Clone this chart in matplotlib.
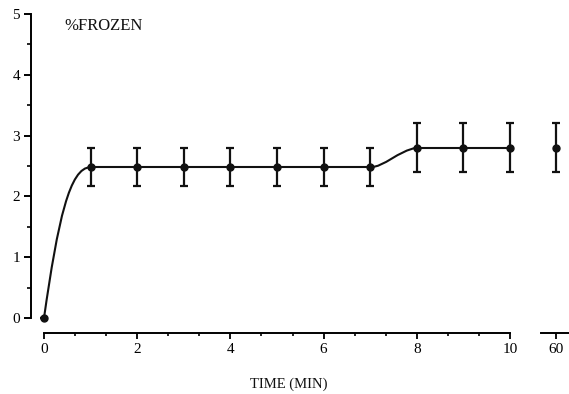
import matplotlib
matplotlib.use("Agg")
import matplotlib.pyplot as plt
from matplotlib.path import Path
from matplotlib.patches import PathPatch
from matplotlib.ticker import MultipleLocator, FixedLocator

# ---- data ----
time_min = [0, 1, 2, 3, 4, 5, 6, 7, 8, 9, 10]
pct_frozen = [0, 2.48, 2.48, 2.48, 2.48, 2.48, 2.48, 2.48, 2.8, 2.8, 2.8]
sem = [0, 0.31, 0.31, 0.31, 0.31, 0.31, 0.31, 0.31, 0.4, 0.4, 0.4]
late_time = [60]
late_frozen = [2.8]
late_sem = [0.4]
x_ticks = [0, 2, 4, 6, 8, 10]
y_ticks = [0, 1, 2, 3, 4, 5]

FONT = "Liberation Serif"
W, H = 569, 394
fig = plt.figure(figsize=(W / 100, H / 100), dpi=100)

px_per_unit = 46.6
left_px, x0_px = 31, 44
ax_left = left_px / W
xmin = -(x0_px - left_px) / px_per_unit
ax_right_px = 522
xmax = (ax_right_px - x0_px) / px_per_unit
bottom = (H - 318) / H
height = (318 - 14) / H
ax = fig.add_axes([ax_left, bottom, (ax_right_px - left_px) / W, height])
ax.set_xlim(xmin, xmax)
ax.set_ylim(0, 5)

# second axis for 60 min
ax2_l, ax2_r = 541, 569
ax2 = fig.add_axes([ax2_l / W, bottom, (ax2_r - ax2_l) / W, height])
ax2.set_xlim(60 - (556 - ax2_l) / px_per_unit, 60 + (ax2_r - 556) / px_per_unit)
ax2.set_ylim(0, 5)

lw = 1.5
col = "#111111"

# curve: smooth rise 0->1 and 7->8, straight elsewhere
def bez(p0, p1, c1f, c2f):
    (xa, ya), (xb, yb) = p0, p1
    dx, dy = xb - xa, yb - ya
    verts = [(xa, ya),
             (xa + c1f[0] * dx, ya + c1f[1] * dy),
             (xa + c2f[0] * dx, ya + c2f[1] * dy),
             (xb, yb)]
    return Path(verts, [Path.MOVETO, Path.CURVE4, Path.CURVE4, Path.CURVE4])

pts = list(zip(time_min, pct_frozen))
ax.add_patch(PathPatch(bez(pts[0], pts[1], (0.3, 0.65), (0.55, 1.0)),
                       fill=False, lw=lw, ec=col, clip_on=False))
ax.plot(time_min[1:8], pct_frozen[1:8], color=col, lw=lw)
ax.add_patch(PathPatch(bez(pts[7], pts[8], (0.3, 0.0), (0.6, 0.85)),
                       fill=False, lw=lw, ec=col, clip_on=False))
ax.plot(time_min[8:], pct_frozen[8:], color=col, lw=lw)

ax.errorbar(time_min, pct_frozen, yerr=sem, fmt="o", color=col, ms=5,
            elinewidth=1.6, capsize=3, capthick=1.6, clip_on=False, zorder=3)
ax2.errorbar(late_time, late_frozen, yerr=late_sem, fmt="o", color=col, ms=5,
             elinewidth=1.6, capsize=3, capthick=1.6, clip_on=False, zorder=3)

for a in (ax, ax2):
    for s in ("top", "right"):
        a.spines[s].set_visible(False)
    a.spines["bottom"].set_position(("outward", 15 * 0.72))
    a.spines["bottom"].set_linewidth(1.4)
    a.patch.set_visible(False)

ax.spines["left"].set_bounds(0, 5)
ax.spines["left"].set_linewidth(1.4)
ax.spines["bottom"].set_bounds(0, 10)
ax2.spines["left"].set_visible(False)
ax2.tick_params(axis="y", left=False, labelleft=False)

ax.yaxis.set_major_locator(FixedLocator(y_ticks))
ax.yaxis.set_minor_locator(MultipleLocator(0.5))
ax.xaxis.set_major_locator(FixedLocator(x_ticks))
ax.xaxis.set_minor_locator(MultipleLocator(2 / 3))
ax2.xaxis.set_major_locator(FixedLocator(late_time))

for a in (ax, ax2):
    a.tick_params(axis="x", which="major", direction="out", length=4, width=1.4,
                  labelsize=11, pad=3, labelfontfamily=FONT, color=col)
    a.tick_params(axis="x", which="minor", direction="out", length=2.5, width=1.2)
ax.tick_params(axis="y", which="major", direction="out", length=5, width=1.4,
               labelsize=11, pad=3, labelfontfamily=FONT)
ax.tick_params(axis="y", which="minor", direction="out", length=3, width=1.2)

fig.text(64 / W, 1 - 26 / H, "%FROZEN", fontsize=12, family=FONT,
         ha="left", va="center", color=col)
fig.text(289 / W, 1 - 384 / H, "TIME (MIN)", fontsize=10.5, family=FONT,
         ha="center", va="center", color=col)

fig.savefig("out.png", dpi=100)
